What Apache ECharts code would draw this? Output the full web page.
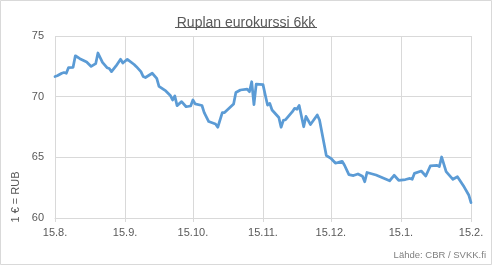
<!DOCTYPE html>
<html>
<head>
<meta charset="utf-8">
<script src="https://cdn.jsdelivr.net/npm/echarts@6/dist/echarts.min.js"></script>
<style>
html,body{margin:0;padding:0;background:#fff;}
#c{width:492px;height:265px;}
</style>
</head>
<body>
<div id="c"></div>
<script>
const dates = ['2016-08-15','2016-08-16','2016-08-18','2016-08-19','2016-08-20','2016-08-21','2016-08-23','2016-08-24','2016-08-26','2016-08-29','2016-08-31',
'2016-09-02','2016-09-03','2016-09-05','2016-09-07','2016-09-08','2016-09-09','2016-09-11','2016-09-13','2016-09-14','2016-09-16','2016-09-19','2016-09-20','2016-09-22','2016-09-23','2016-09-24','2016-09-27','2016-09-29','2016-09-30',
'2016-10-03','2016-10-05','2016-10-06','2016-10-07','2016-10-08','2016-10-10','2016-10-12','2016-10-14','2016-10-15','2016-10-16','2016-10-19','2016-10-20','2016-10-22','2016-10-25','2016-10-26','2016-10-28','2016-10-29','2016-10-31',
'2016-11-02','2016-11-03','2016-11-05','2016-11-08','2016-11-09','2016-11-10','2016-11-11','2016-11-12','2016-11-15','2016-11-16','2016-11-17','2016-11-18','2016-11-19','2016-11-22','2016-11-23','2016-11-24','2016-11-25','2016-11-28','2016-11-29','2016-11-30',
'2016-12-01','2016-12-03','2016-12-04','2016-12-06','2016-12-09','2016-12-10','2016-12-13','2016-12-15','2016-12-17','2016-12-18','2016-12-20','2016-12-21','2016-12-23','2016-12-25','2016-12-27','2016-12-29','2016-12-30','2016-12-31',
'2017-01-04','2017-01-10','2017-01-12','2017-01-14','2017-01-17','2017-01-19','2017-01-20','2017-01-21','2017-01-24','2017-01-26','2017-01-28','2017-01-31',
'2017-02-01','2017-02-02','2017-02-04','2017-02-07','2017-02-09','2017-02-12','2017-02-14','2017-02-15'];
const rates = [71.66,71.72,71.93,71.99,71.93,72.40,72.42,73.37,73.13,72.86,72.49,
72.72,73.60,72.82,72.39,72.32,72.06,72.53,73.08,72.77,73.08,72.65,72.47,72.06,71.66,71.58,71.93,71.51,70.85,
70.47,70.10,69.73,70.05,69.26,69.59,69.17,69.23,69.73,69.40,69.27,68.69,67.95,67.75,67.48,68.69,68.69,69.04,
69.40,70.34,70.55,70.63,70.41,71.23,69.35,71.04,70.99,70.14,69.31,69.45,68.90,68.28,67.48,68.05,68.10,68.76,69.04,68.96,
69.27,67.52,68.37,67.71,68.49,68.08,65.15,64.92,64.53,64.57,64.67,64.37,63.57,63.50,63.63,63.44,62.99,63.75,
63.54,63.07,63.52,63.11,63.17,63.26,63.19,63.68,63.87,63.46,64.29,64.34,
64.24,65.03,63.82,63.19,63.40,62.55,61.90,61.26];
const tickDates = ['2016-08-15','2016-09-15','2016-10-15','2016-11-15','2016-12-15','2017-01-15','2017-02-15'];
const tickLabels = ['15.8.','15.9.','15.10.','15.11.','15.12.','15.1.','15.2.'];
const yMin = 60, yMax = 75, yStep = 5;
const titleText = 'Ruplan eurokurssi 6kk';
const yName = '1 € = RUB';
const sourceText = 'Lähde: CBR / SVKK.fi';

// day index since first tick date (UTC to avoid DST issues)
function dayNum(s){ const p = s.split('-').map(Number); return Date.UTC(p[0], p[1]-1, p[2]) / 86400000; }
const day0 = dayNum(tickDates[0]);
const tickDays = tickDates.map(s => dayNum(s) - day0);
const labelMap = {}; tickDays.forEach((t,i)=>{ labelMap[t] = tickLabels[i]; });
const seriesData = dates.map((d,i)=>[dayNum(d) - day0, rates[i]]);

const chart = echarts.init(document.getElementById('c'), null, {renderer:'canvas'});
chart.setOption({
  animation:false,
  backgroundColor:'#ffffff',
  title:{
    text:titleText, left:'center', top:11,
    textStyle:{fontFamily:'Liberation Sans', fontSize:14, fontWeight:'normal', color:'#595959'}
  },
  grid:{left:55, right:21, top:36, bottom:47, containLabel:false},
  xAxis:{
    type:'value',
    min:tickDays[0], max:tickDays[tickDays.length-1],
    axisLine:{show:true, lineStyle:{color:'#d9d9d9', width:1}},
    axisTick:{show:true, length:4, lineStyle:{color:'#d9d9d9'}, customValues:tickDays},
    axisLabel:{customValues:tickDays, margin:9, color:'#595959', fontFamily:'Liberation Sans', fontSize:11,
      formatter:function(v){ return labelMap[v] !== undefined ? labelMap[v] : ''; }},
    splitLine:{show:true, lineStyle:{color:'#d9d9d9', width:1}}
  },
  yAxis:{
    type:'value', min:yMin, max:yMax, interval:yStep,
    axisLine:{show:false}, axisTick:{show:false},
    axisLabel:{margin:11, color:'#595959', fontFamily:'Liberation Sans', fontSize:11},
    splitLine:{show:true, lineStyle:{color:'#d9d9d9', width:1}}
  },
  graphic:[
    {type:'rect', shape:{x:0.5,y:0.5,width:491,height:264}, style:{fill:'none', stroke:'#d9d9d9', lineWidth:1}, silent:true, z:-1},
    {type:'line', shape:{x1:175,y1:27.5,x2:317,y2:27.5}, style:{stroke:'#595959', lineWidth:1}, silent:true},
    {type:'text', x:15.5, y:197, rotation:Math.PI/2, style:{text:yName, fill:'#595959', font:'11px "Liberation Sans"', align:'center', verticalAlign:'middle'}},
    {type:'text', right:6, bottom:5, style:{text:sourceText, fill:'#7f7f7f', font:'9.5px "Liberation Sans"'}}
  ],
  series:[{
    type:'line', data:seriesData, showSymbol:false, smooth:false,
    lineStyle:{color:'#5b9bd5', width:2.75, cap:'round', join:'round'},
    itemStyle:{color:'#5b9bd5'}
  }]
});
</script>
</body>
</html>
